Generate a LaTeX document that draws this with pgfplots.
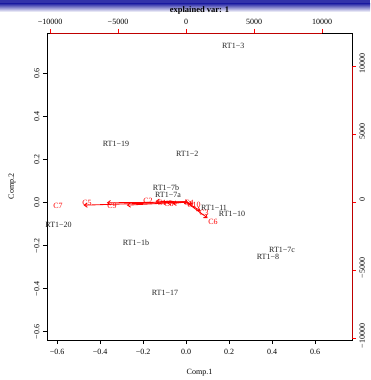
\documentclass[border=0pt]{standalone}
\usepackage{pgfplots}
\pgfplotsset{compat=1.18}
\usepackage{fontspec}
\setmainfont{Liberation Serif}
\usetikzlibrary{arrows.meta}
\definecolor{bandblue}{RGB}{50,50,170}
\definecolor{txt}{RGB}{35,35,35}

\pgfplotstableread{
x y label
0.219 0.726 RT1−3
-0.326 0.270 RT1−19
0.005 0.223 RT1−2
-0.093 0.065 RT1−7b
-0.084 0.033 RT1−7a
0.130 -0.028 RT1−11
0.214 -0.056 RT1−10
-0.593 -0.107 RT1−20
-0.233 -0.191 RT1−1b
0.447 -0.223 RT1−7c
0.381 -0.256 RT1−8
-0.098 -0.423 RT1−17
}\scores

\pgfplotstableread{
x y u v label
0 0 -1412 -59 C1
0 0 -2235 59 C2
0 0 1059 -647 C3
0 0 177 -59 C4
0 0 -5823 -59 C5
0 0 1588 -1177 C6
0 0 -7530 -235 C7
0 0 -1000 -118 C8
0 0 -4353 -235 C9
0 0 470 -177 C10
}\loadings

\pgfplotstableread{
x y label
-1765 -74 C1
-2794 74 C2
1324 -809 C3
221 -74 C4
-7279 -74 C5
1985 -1471 C6
-9412 -294 C7
-1250 -147 C8
-5441 -294 C9
588 -221 C10
}\loadlabels

\begin{document}
\begin{tikzpicture}[font=\fontsize{8}{9.6}\selectfont]
\fill[bandblue] (-47pt,336pt) rectangle (323pt,340pt);
\shade[top color=bandblue,bottom color=white] (-47pt,328pt) rectangle (323pt,336pt);
\path (-47pt,-40pt) rectangle (323pt,340pt);

\begin{axis}[
  width=305pt, height=307pt, scale only axis,
  xmin=-0.647, xmax=0.772, ymin=-0.642, ymax=0.786,
  axis line style={black, line width=0.8pt},
  xtick={-0.6,-0.4,-0.2,0,0.2,0.4,0.6},
  xticklabels={−0.6,−0.4,−0.2,0.0,0.2,0.4,0.6},
  ytick={-0.6,-0.4,-0.2,0,0.2,0.4,0.6},
  yticklabels={−0.6,−0.4,−0.2,0.0,0.2,0.4,0.6},
  xtick pos=left, ytick pos=left,
  tick align=outside, major tick length=4pt,
  tick style={black, line width=0.6pt},
  xticklabel style={yshift=-2pt},
  yticklabel style={rotate=90, anchor=south, xshift=-1pt},
  every axis x label/.style={at={(axis description cs:0.5,-0.1075)}, anchor=center},
  every axis y label/.style={at={(axis description cs:-0.1148,0.5)}, rotate=90, anchor=center},
  every axis title/.style={at={(axis description cs:0.5,1.0749)}, anchor=center, font=\fontsize{8.5}{10}\selectfont\bfseries},
  xlabel={Comp.1}, ylabel={Comp.2},
  title={explained var: 1},
]
\addplot[only marks, mark=none, nodes near coords, point meta=explicit symbolic,
  nodes near coords style={anchor=center, text=txt, inner sep=0pt}]
  table[x=x, y=y, meta=label] {\scores};
\end{axis}

\begin{axis}[
  width=305pt, height=307pt, scale only axis,
  xmin=-10221, xmax=12206, ymin=-10147, ymax=12426,
  axis line style={draw=none},
  xtick={-10000,-5000,0,5000,10000},
  xticklabels={−10000,−5000,0,5000,10000},
  ytick={-10000,-5000,0,5000,10000},
  yticklabels={−10000,−5000,0,5000,10000},
  xtick pos=right, ytick pos=right,
  xticklabel pos=right, yticklabel pos=right,
  tick align=outside, major tick length=4pt,
  tick style={red, line width=0.6pt},
  scaled ticks=false,
  xticklabel style={yshift=1pt},
  yticklabel style={rotate=90, anchor=north, xshift=2pt},
  clip=false,
]
\draw[red!75!black, line width=0.8pt] (axis cs:-10000,12426) -- (axis cs:10000,12426);
\draw[red!75!black, line width=0.8pt] (axis cs:12206,-10000) -- (axis cs:12206,10000);
\addplot[red, line width=0.85pt, quiver={u=\thisrow{u}, v=\thisrow{v}},
  -{Straight Barb[length=3pt,width=4.5pt]}]
  table[x=x, y=y] {\loadings};
\addplot[only marks, mark=none, nodes near coords, point meta=explicit symbolic,
  nodes near coords style={anchor=center, text=red, inner sep=0pt}]
  table[x=x, y=y, meta=label] {\loadlabels};
\end{axis}
\end{tikzpicture}
\end{document}
